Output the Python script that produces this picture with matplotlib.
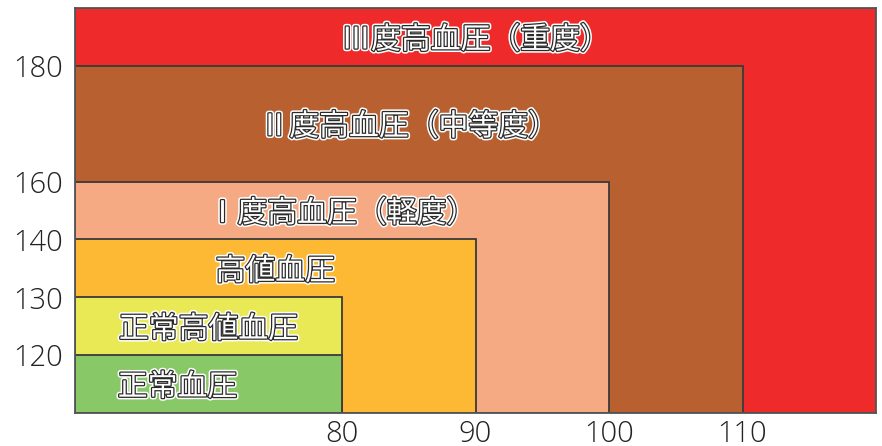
import numpy as np
import matplotlib
matplotlib.use("Agg")
import matplotlib.pyplot as plt
import matplotlib.patheffects as pe
from matplotlib.transforms import offset_copy

plt.rcParams['font.family'] = ['Noto Sans CJK JP', 'DejaVu Sans']

# Data: category upper limits (diastolic, systolic), drawn largest first
categories = ["Ⅲ度高血圧（重度）", "Ⅱ度高血圧（中等度）", "Ⅰ度高血圧（軽度）",
              "高値血圧", "正常高値血圧", "正常血圧"]
dbp_upper = [120, 110, 100, 90, 80, 80]
sbp_upper = [190, 180, 160, 140, 130, 120]
colors = ["#EE2A2A", "#B96031", "#F6AA84", "#FDB834", "#E9E955", "#88C867"]

x_ticks = [80, 90, 100, 110]
y_ticks = [120, 130, 140, 160, 180]
x_min, y_min = 60, 110

# non-linear y axis (140-160 compressed)
yk = [110, 140, 160, 190]
yp = [0, 3, 4, 7]
def fwd(v):
    return np.interp(v, yk, yp)
def inv(v):
    return np.interp(v, yp, yk)

fig = plt.figure(figsize=(8.82, 4.46), dpi=100)
ax = fig.add_axes([75/882, 33/446, 801/882, 405/446])
ax.set_yscale('function', functions=(fwd, inv))

for d, s, c in zip(dbp_upper, sbp_upper, colors):
    ax.bar(x_min, s - y_min, width=d - x_min, bottom=y_min, align='edge',
           color=c, edgecolor='#3a3a3a', linewidth=1.3)

ax.set_xlim(60, 120)
ax.set_ylim(110, 190)
ax.set_xticks(x_ticks)
ax.set_xticklabels([str(v) for v in x_ticks])
ax.set_yticks(y_ticks)
ax.set_yticklabels([str(v) for v in y_ticks])
ax.tick_params(length=0, labelsize=21, labelcolor='#222222')
ax.tick_params(axis='y', pad=9)
ax.tick_params(axis='x', pad=5)
for lab in ax.get_xticklabels() + ax.get_yticklabels():
    lab.set_fontfamily(['Open Sans', 'DejaVu Sans'])
    lab.set_fontweight(300)
for sp in ax.spines.values():
    sp.set_color('#555555')
    sp.set_linewidth(1.3)

effects = [pe.Stroke(linewidth=4.0, foreground='white'),
           pe.Stroke(linewidth=1.8, foreground='#2a2a2a'),
           pe.Normal()]

tr = offset_copy(ax.transData, fig=fig, x=0, y=-2.2, units='points')
lower = [180, 160, 140, 130, 120, 110]
for i, (name, d, s, lo) in enumerate(zip(categories, dbp_upper, sbp_upper, lower)):
    ymid = inv((fwd(s) + fwd(lo)) / 2)
    if name == "正常血圧":
        ax.text(63.2, ymid, name, ha='left', va='center', fontsize=21.5,
                color='white', path_effects=effects, transform=tr)
    else:
        ax.text((x_min + d) / 2, ymid, name, ha='center', va='center',
                fontsize=21.5, color='white', path_effects=effects, transform=tr)

fig.savefig("out.png", dpi=100)
